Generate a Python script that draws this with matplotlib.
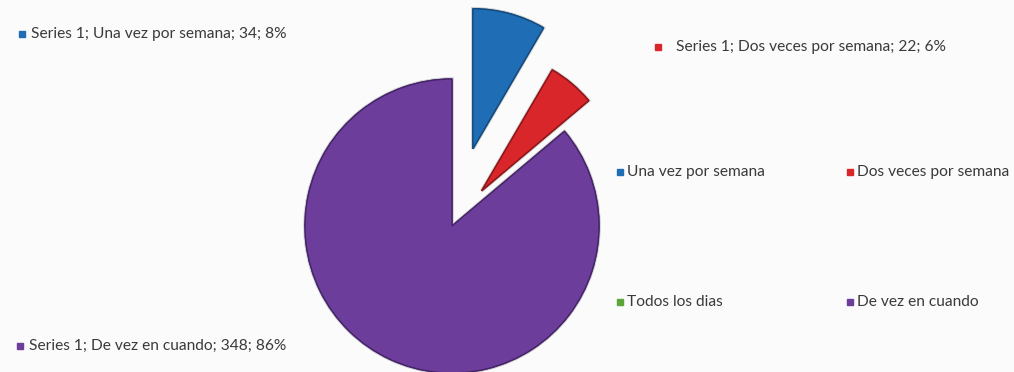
import matplotlib.pyplot as plt
import matplotlib.patheffects as pe

categories = ["Una vez por semana", "Dos veces por semana", "Todos los dias", "De vez en cuando"]
values = [34, 22, 0, 348]
percents = ["8%", "6%", "0%", "86%"]
series_name = "Series 1"
colors = ["#1f6db4", "#d9262b", "#5aa63a", "#6d3d9c"]
edge_colors = ["#134a80", "#8f1518", "#3a7022", "#46246a"]
explode = [80, 46, 0, 0]  # offsets in pixel units of the axes

W, H = 1014, 372
fig = plt.figure(figsize=(W / 100, H / 100), dpi=100, facecolor="#fbfbfb")
ax = fig.add_axes([0, 0, 1, 1])

font = "Lato"
fs = 11.2
txt_color = "#3a3a3a"

wedges, _ = ax.pie(values, colors=colors, explode=explode, startangle=90,
                   counterclock=False, center=(452, H - 226), radius=147,
                   wedgeprops=dict(linewidth=1.0),
                   frame=True)
ax.set_xlim(0, W)
ax.set_ylim(0, H)
ax.set_aspect("equal")
ax.axis("off")
for w, ec, v, ex in zip(wedges, edge_colors, values, explode):
    if v == 0:
        w.set_visible(False)
        continue
    if ex:
        w.set_radius(140)
    w.set_edgecolor(ec)
    w.set_path_effects([pe.withStroke(linewidth=2.5, foreground="#00000030"), pe.Normal()])

# data labels
data_labels = {0: (22, H - 34), 1: (658, H - 47), 3: (20, H - 346)}
for i, (x, y) in data_labels.items():
    ax.plot(x, y, marker="s", ms=4.5, color=colors[i], mec=colors[i])
    dx = 9 if i != 1 else 18
    ax.text(x + dx, y, f"{series_name}; {categories[i]}; {values[i]}; {percents[i]}",
            fontsize=fs, family=font, color=txt_color, va="center", ha="left")

# legend
legend_pos = [(620, H - 172), (850, H - 172), (620, H - 302), (850, H - 302)]
for (x, y), cat, c in zip(legend_pos, categories, colors):
    ax.plot(x, y, marker="s", ms=4.5, color=c, mec=c)
    ax.text(x + 7, y, cat, fontsize=fs, family=font, color=txt_color,
            va="center", ha="left")

fig.savefig("out.png", dpi=100, facecolor=fig.get_facecolor())
